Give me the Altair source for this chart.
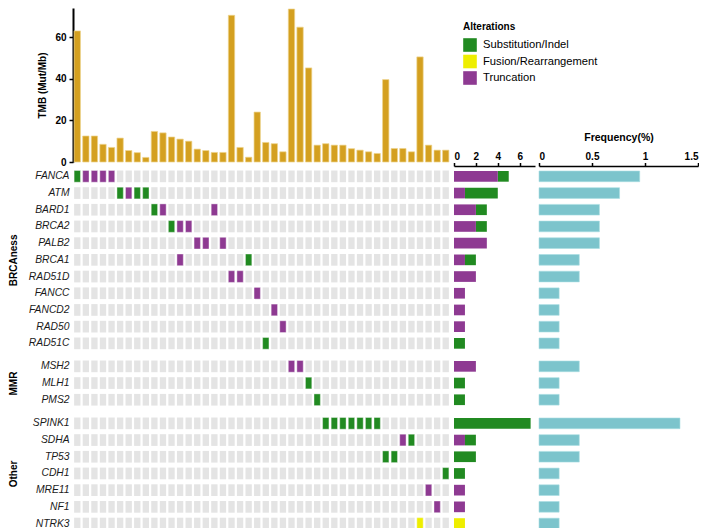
import altair as alt
import pandas as pd

# ---------------- data ----------------
samples = list(range(1, 45))
tmb = [63, 12.5, 12.5, 8.5, 7, 11.5, 5.5, 4.5, 2.2, 14.7, 14, 12, 11, 10, 6.2, 5.5, 4.6, 4.6,
       70.5, 7, 2.3, 24, 9.4, 8.8, 4.9, 73.5, 64.8, 45.2, 8.1, 8.8, 8.1, 8.1, 6.4, 5.7, 4.9,
       4.1, 39.6, 6.5, 6.5, 4.9, 50.5, 8.1, 5.7, 5.7]

group_names = ["BRCAness", "MMR", "Other"]
brcaness_genes = ["FANCA", "ATM", "BARD1", "BRCA2", "PALB2", "BRCA1", "RAD51D",
                  "FANCC", "FANCD2", "RAD50", "RAD51C"]
mmr_genes = ["MSH2", "MLH1", "PMS2"]
other_genes = ["SPINK1", "SDHA", "TP53", "CDH1", "MRE11", "NF1", "NTRK3"]
group_genes = [brcaness_genes, mmr_genes, other_genes]

alt_types = ["Substitution/Indel", "Fusion/Rearrangement", "Truncation"]
alt_colors = ["#218A21", "#EEEE00", "#8E3A92"]
stack_rank = {"Truncation": 0, "Substitution/Indel": 1, "Fusion/Rearrangement": 2}

# alterations (gene, sample, type)
alteration_gene = (["FANCA"] * 5 + ["ATM"] * 4 + ["BARD1"] * 3 + ["BRCA2"] * 3 + ["PALB2"] * 3 +
                   ["BRCA1"] * 2 + ["RAD51D"] * 2 + ["FANCC", "FANCD2", "RAD50", "RAD51C"] +
                   ["MSH2"] * 2 + ["MLH1", "PMS2"] + ["SPINK1"] * 7 + ["SDHA"] * 2 + ["TP53"] * 2 +
                   ["CDH1", "MRE11", "NF1", "NTRK3"])
alteration_sample = ([1, 2, 3, 4, 5] + [6, 7, 8, 9] + [10, 11, 17] + [12, 13, 14] + [15, 16, 18] +
                     [13, 21] + [19, 20] + [22, 24, 25, 23] +
                     [26, 27] + [28, 29] + [30, 31, 32, 33, 34, 35, 36] + [39, 40] + [37, 38] +
                     [44, 42, 43, 41])
S, F, T = "Substitution/Indel", "Fusion/Rearrangement", "Truncation"
alteration_type = ([S, T, T, T, T] + [S, T, S, S] + [S, T, T] + [S, T, T] + [T, T, T] +
                   [T, S] + [T, T] + [T, T, T, S] +
                   [T, T] + [S, S] + [S] * 7 + [T, S] + [S, S] +
                   [S, T, T, F])

freq_genes = brcaness_genes + mmr_genes + other_genes
freq_values = [0.95, 0.76, 0.57, 0.57, 0.57, 0.38, 0.38, 0.19, 0.19, 0.19, 0.19,
               0.38, 0.19, 0.19,
               1.33, 0.38, 0.38, 0.19, 0.19, 0.19, 0.19]

# ---------------- tables ----------------
gene_group = {g: grp for grp, genes in zip(group_names, group_genes) for g in genes}
tmb_df = pd.DataFrame({"sample": samples, "tmb": tmb})
alt_df = pd.DataFrame({"gene": alteration_gene, "sample": alteration_sample, "type": alteration_type})
alt_df["group"] = alt_df["gene"].map(gene_group)
alt_df["stack"] = alt_df["type"].map(stack_rank)
freq_df = pd.DataFrame({"gene": freq_genes, "freq": freq_values})
freq_df["group"] = freq_df["gene"].map(gene_group)

# ---------------- layout ----------------
FONT = "Liberation Sans"
W_GRID, W_CNT, W_FRQ = 377, 81, 159
H_TMB = 154
STEP = 16.7

xs = alt.Scale(domain=samples, paddingInner=0.26, paddingOuter=0.13)
cscale = alt.Scale(domain=alt_types, range=alt_colors)

tmb_chart = alt.Chart(tmb_df).mark_bar(color="#D4A020", stroke="#EED48E", strokeWidth=0.7).encode(
    x=alt.X("sample:O", scale=xs, axis=None),
    y=alt.Y("tmb:Q", scale=alt.Scale(domain=[0, 74], nice=False),
            axis=alt.Axis(values=[0, 20, 40, 60], title="TMB (Mut/Mb)", grid=False,
                          domainColor="black", domainWidth=2, tickColor="black", tickWidth=1.5,
                          tickSize=4, labelPadding=3, labelFontWeight="bold", labelFontSize=10,
                          labelColor="black", titleFontSize=10, titleFontWeight="bold",
                          titleColor="black", titlePadding=7)),
).properties(width=W_GRID, height=H_TMB)

legend_chart = alt.Chart(pd.DataFrame({"type": alt_types})).mark_square(opacity=0).encode(
    color=alt.Color("type:N", scale=cscale,
                    legend=alt.Legend(title="Alterations", orient="none", legendX=9, legendY=14,
                                      symbolType="square", symbolSize=185, symbolStrokeWidth=0,
                                      symbolOpacity=1, labelFontSize=11.2, labelColor="black",
                                      titleFontSize=10, titleFontWeight="bold", titleColor="black",
                                      titlePadding=6, rowPadding=2.5, labelOffset=6)),
).properties(width=W_CNT, height=20)

empty_chart = alt.Chart(pd.DataFrame({"a": [0]})).mark_point(opacity=0).properties(width=W_FRQ, height=20)


def grid_chart(gname, genes):
    h = STEP * len(genes)
    bg = pd.DataFrame([(g, s) for g in genes for s in samples], columns=["gene", "sample"])
    ys = alt.Scale(domain=genes, paddingInner=0.3, paddingOuter=0.15)
    yaxis = alt.Axis(title=gname, labelFontStyle="italic", labelFontSize=10.3, labelColor="#1a1a1a",
                     ticks=False, domain=False, labelPadding=4, titleFontWeight="bold",
                     titleFontSize=10, titleColor="black", titleX=-55, titleY=h / 2)
    base = alt.Chart(bg).mark_rect(color="#E4E4E4").encode(
        x=alt.X("sample:O", scale=xs, axis=None),
        y=alt.Y("gene:N", scale=ys, axis=yaxis),
    )
    fg = alt.Chart(alt_df[alt_df["group"] == gname]).mark_rect(
        stroke="white", strokeOpacity=0.4, strokeWidth=1).encode(
        x=alt.X("sample:O", scale=xs, axis=None),
        y=alt.Y("gene:N", scale=ys, axis=yaxis),
        color=alt.Color("type:N", scale=cscale, legend=None),
    )
    return alt.layer(base, fg).properties(width=W_GRID, height=h)


def top_axis(values, title=None, fmt=None):
    kw = dict(orient="top", values=values, offset=2, grid=False, domainColor="black",
              domainWidth=1.5, tickColor="black", tickWidth=1.5, tickSize=3.5,
              labelFontWeight="bold", labelFontSize=10, labelColor="black", labelPadding=1)
    if fmt:
        kw["format"] = fmt
    if title:
        kw.update(title=title, titleFontSize=10.5, titleFontWeight="bold", titleColor="black",
                  titlePadding=9)
    else:
        kw["title"] = ""
    return alt.Axis(**kw)


def count_chart(gname, genes, first):
    h = STEP * len(genes)
    x = alt.X("n:Q", stack="zero", scale=alt.Scale(domain=[0, 7.4], nice=False))
    x = x.axis(top_axis([0, 2, 4, 6])) if first else x.axis(None)
    return alt.Chart(alt_df[alt_df["group"] == gname]).transform_aggregate(
        n="count()", groupby=["gene", "type", "stack"]
    ).mark_bar().encode(
        x=x,
        y=alt.Y("gene:N", scale=alt.Scale(domain=genes, paddingInner=0.36, paddingOuter=0.18), axis=None),
        color=alt.Color("type:N", scale=cscale, legend=None),
        order=alt.Order("stack:Q"),
    ).properties(width=W_CNT, height=h)


def freq_chart(gname, genes, first):
    h = STEP * len(genes)
    x = alt.X("freq:Q", scale=alt.Scale(domain=[0, 1.5], nice=False))
    x = x.axis(top_axis([0, 0.5, 1, 1.5], title="Frequency(%)", fmt=".1~f")) if first else x.axis(None)
    return alt.Chart(freq_df[freq_df["group"] == gname]).mark_bar(
        color="#7CC4CC", stroke="#A8DDE2", strokeWidth=0.6).encode(
        x=x,
        y=alt.Y("gene:N", scale=alt.Scale(domain=genes, paddingInner=0.36, paddingOuter=0.18), axis=None),
    ).properties(width=W_FRQ, height=h)


cells = [tmb_chart, legend_chart, empty_chart]
for i, (gname, genes) in enumerate(zip(group_names, group_genes)):
    cells += [grid_chart(gname, genes), count_chart(gname, genes, i == 0), freq_chart(gname, genes, i == 0)]

chart = alt.concat(*cells, columns=3, spacing={"row": 6, "column": 4}, bounds="flush",
                   align="each", padding=0).resolve_legend(color="independent").configure(
    font=FONT).configure_view(strokeWidth=0)

chart.save("out.html", embed_options={"renderer": "svg", "actions": False})
